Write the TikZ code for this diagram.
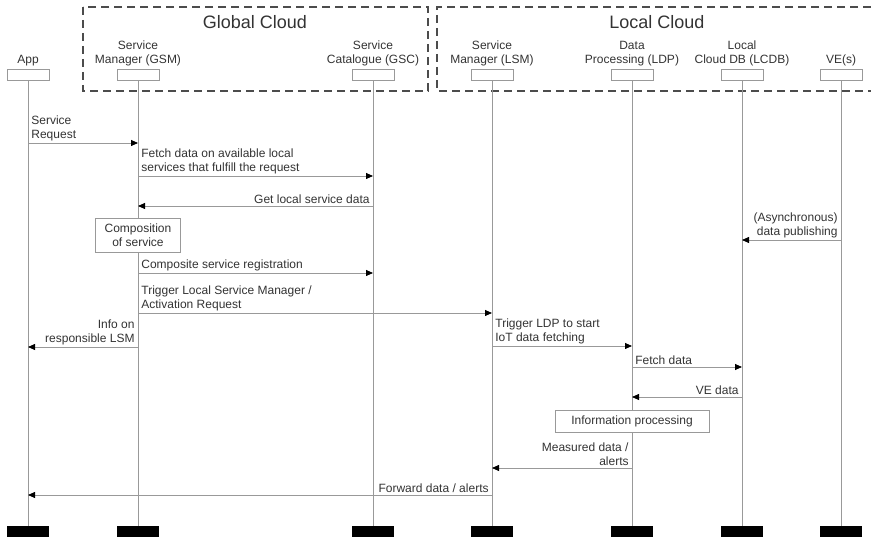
\documentclass[tikz,border=0pt]{standalone}
\usepackage{fontspec}
\setmainfont{Liberation Sans}
\usetikzlibrary{arrows.meta,positioning}
\definecolor{txtgray}{gray}{0.2}
\definecolor{linegray}{gray}{0.6}
\tikzset{
head/.style={draw=linegray,minimum width=42pt,minimum height=11pt,inner sep=0pt},
foot/.style={fill=black,minimum width=42pt,minimum height=11pt,inner sep=0pt},
lifeline/.style={draw=linegray,line width=0.8pt},
msg/.style={draw=linegray,line width=0.8pt,-{Triangle[length=7pt,width=6pt,color=black]}},
tright/.style={above right,align=left,inner xsep=3pt,inner ysep=1.5pt},
tleft/.style={above left,align=right,inner xsep=3pt,inner ysep=1.5pt},
action/.style={draw=linegray,fill=white,align=center,inner sep=2pt},
cloud/.style={draw=black!70,line width=1.3pt,dash pattern=on 8pt off 5pt}
}

\begin{document}
\begin{tikzpicture}[x=1pt,y=-1pt,every node/.append style={text=txtgray,font=\fontsize{12}{14}\selectfont}]
\useasboundingbox (0,0) rectangle (871,537);
%%% clouds
\draw[cloud] (83,7) rectangle (428,91);
\draw[cloud] (871,7) -- (437,7) -- (437,91) -- (871,91);
\node[font=\fontsize{18}{20}\selectfont] (gcloud) at (255,22) {Global Cloud};
\node[font=\fontsize{18}{20}\selectfont] (lcloud) at (657,22) {Local Cloud};
%%% lifelines
\foreach \n/\x/\t in {app/28/App,gsm/138/Service\\Manager (GSM),gsc/373/Service\\Catalogue (GSC),
  lsm/492/Service\\Manager (LSM),ldp/632/Data\\Processing (LDP),lcdb/742/Local\\Cloud DB (LCDB),ve/841/VE(s)}
{
  \node[head] (\n) at (\x,74.5) {};
  \node[above=2pt of \n,align=center,inner sep=1pt] (\n-lbl) {\t};
  \node[foot] (\n-end) at (\x,531.5) {};
  \draw[lifeline] (\n) -- (\n-end);
}
%%% rows
\foreach \i/\y in {1/143,2/176,3/206,4/235,5/273,6/313,7/347,8/240,9/346,10/367,11/397,12/421,13/468,14/495}
  \coordinate (r\i) at (0,\y);
%%% global side
\draw[msg] (app |- r1) -- node[pos=0,tright] {Service\\Request} (gsm |- r1);
\draw[msg] (gsm |- r2) -- node[pos=0,tright] {Fetch data on available local\\services that fulfill the request} (gsc |- r2);
\draw[msg] (gsc |- r3) -- node[pos=0,tleft] {Get local service data} (gsm |- r3);
\node[action,minimum width=85pt,minimum height=34pt] (compose) at (gsm |- r4) {Composition\\of service};
\draw[msg] (gsm |- r5) -- node[pos=0,tright] {Composite service registration} (gsc |- r5);
\draw[msg] (gsm |- r6) -- node[pos=0,tright] {Trigger Local Service Manager /\\Activation Request} (lsm |- r6);
\draw[msg] (gsm |- r7) -- node[pos=0,tleft] {Info on\\responsible LSM} (app |- r7);
%%% local side
\draw[msg] (ve |- r8) -- node[pos=0,tleft] {(Asynchronous)\\data publishing} (lcdb |- r8);
\draw[msg] (lsm |- r9) -- node[pos=0,tright] {Trigger LDP to start\\IoT data fetching} (ldp |- r9);
\draw[msg] (ldp |- r10) -- node[pos=0,tright] {Fetch data} (lcdb |- r10);
\draw[msg] (lcdb |- r11) -- node[pos=0,tleft] {VE data} (ldp |- r11);
\node[action,minimum width=154pt,minimum height=22pt] (infoproc) at (ldp |- r12) {Information processing};
\draw[msg] (ldp |- r13) -- node[pos=0,tleft] {Measured data /\\alerts} (lsm |- r13);
\draw[msg] (lsm |- r14) -- node[pos=0,tleft] {Forward data / alerts} (app |- r14);
\end{tikzpicture}
\end{document}
